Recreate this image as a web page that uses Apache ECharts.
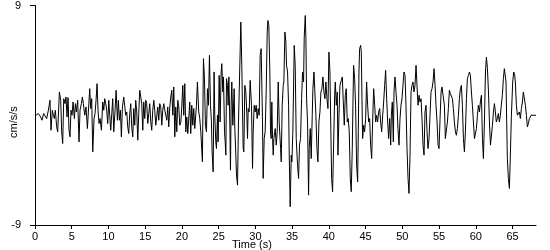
<!DOCTYPE html>
<html>
<head>
<meta charset="utf-8">
<script src="https://cdn.jsdelivr.net/npm/echarts@6/dist/echarts.min.js"></script>
<style>html,body{margin:0;padding:0;background:#fff;}#c{width:550px;height:250px;}</style>
</head>
<body>
<div id="c"></div>
<script>
// Time (s) of each read sample
const times = [
0.14,0.45,0.77,0.95,1.18,1.41,1.59,1.82,2.04,2.18,2.36,2.50,2.63,2.77,2.95,3.09,3.32,3.50,3.63,3.77,3.91,4.09,4.22,4.36,4.50,4.63,4.77,4.90,5.04,5.18,5.36,5.50,5.63,5.81,5.99,6.13,6.31,6.45,6.58,6.77,6.95,7.13,7.27,7.45,7.58,7.72,7.86,8.04,8.17,8.31,8.45,8.58,8.72,8.86,9.04,9.22,9.36,9.49,9.63,9.76,9.90,10.04,10.17,10.31,10.45,10.58,10.72,10.90,11.04,11.22,11.35,11.49,11.63,11.76,11.90,12.08,12.22,12.35,12.49,12.62,12.76,12.90,13.03,13.17,13.31,13.44,13.58,13.71,13.85,13.99,14.12,14.26,14.40,14.53,14.67,14.80,14.94,15.08,15.21,15.35,15.49,15.62,15.76,15.89,16.03,16.17,16.30,16.44,16.58,16.71,16.85,16.98,17.12,17.26,17.39,17.53,17.67,17.80,17.94,18.07,18.21,18.35,18.48,18.62,18.76,18.89,19.03,19.16,19.30,19.44,19.57,19.71,19.85,19.98,20.12,20.25,20.39,20.53,20.66,20.80,
20.93,21.07,21.20,21.34,21.48,21.61,21.75,21.98,22.11,22.29,22.43,22.57,22.79,22.93,23.07,23.20,23.34,23.48,23.61,23.75,23.89,24.02,24.11,24.25,24.38,24.47,24.61,24.70,24.84,24.93,25.07,25.20,25.34,25.43,25.57,25.66,25.80,25.89,25.98,26.07,26.20,26.29,26.39,26.52,26.61,26.70,26.79,26.93,27.02,27.11,27.20,27.29,27.43,27.57,27.70,
28.02,28.15,28.34,28.43,28.56,28.70,28.84,28.93,29.02,29.15,29.29,29.47,29.61,29.70,29.84,29.97,30.11,30.24,30.38,30.52,30.65,30.79,30.97,31.06,31.20,31.33,31.47,31.61,31.70,31.83,31.97,32.06,32.15,32.24,32.34,32.43,32.52,32.70,32.84,32.97,33.11,33.24,33.43,33.52,33.65,33.79,33.88,34.02,34.15,34.24,34.38,34.52,34.61,34.74,
34.88,34.97,35.10,35.29,35.42,35.56,35.74,35.88,36.01,36.15,36.29,36.42,36.56,36.65,36.79,36.88,36.97,37.10,37.24,37.33,37.47,37.60,37.74,37.83,37.97,38.10,38.24,38.38,38.51,38.65,38.79,38.92,39.06,39.19,39.33,39.47,39.60,39.74,39.88,40.01,40.15,40.24,40.38,40.51,40.65,40.79,40.88,41.01,41.15,41.24,41.38,41.51,41.65,
41.83,41.96,42.10,42.24,42.37,42.51,42.64,42.78,42.92,43.05,43.19,43.28,43.37,43.51,43.64,43.78,43.92,44.01,44.10,44.19,44.33,44.42,44.51,44.60,44.74,44.87,45.01,45.14,45.28,45.42,45.55,45.69,45.83,45.96,46.10,46.24,46.37,46.51,46.64,46.78,46.92,47.05,47.19,47.33,47.46,47.60,47.73,47.87,48.01,48.14,48.28,48.42,48.51,48.64,
48.78,48.87,49.00,49.14,49.28,49.41,49.55,49.69,49.82,49.96,50.09,50.23,50.37,50.50,50.64,50.78,50.91,51.05,51.19,51.32,51.46,51.59,51.73,51.87,52.00,52.14,52.28,52.41,52.55,52.68,52.82,52.96,53.09,53.23,53.37,53.50,53.64,53.77,53.91,54.05,54.18,54.32,54.46,54.59,54.73,54.87,55.00,55.14,55.28,55.41,55.55,
55.73,55.86,56.00,56.14,56.27,56.41,56.54,56.68,56.82,56.95,57.09,57.23,57.36,57.50,57.64,57.77,57.91,58.04,58.18,58.32,58.45,58.59,58.73,58.86,59.00,59.14,59.27,59.41,59.54,59.68,59.82,59.95,60.09,60.23,60.36,60.50,60.63,60.77,60.91,61.04,61.18,61.32,61.45,61.59,61.73,61.86,62.00,62.14,62.27,62.41,62.54,
62.67,62.80,62.94,63.08,63.21,63.35,63.48,63.62,63.76,63.89,64.03,64.12,64.21,64.30,64.44,64.58,64.71,64.85,65.03,65.17,65.30,65.39,65.53,65.67,65.80,65.94,66.07,66.21,66.35,66.48,66.62,66.76,66.89,67.03,67.16,67.30,67.53,68.21
];
// Acceleration (cm/s/s) at each sample
const accel = [
0,0.14,-0.14,-0.41,0.14,0.19,-0.27,0.41,1.23,-1.23,0.41,0,-0.27,0.41,-0.95,-1.36,1.91,1.23,-1.36,-2.32,1.36,0.95,1.50,-0.14,1.45,-1.23,-1.77,0.41,0,1.09,-0.27,0.95,0.27,1.23,-2.18,0.41,0.95,1.50,0.95,0,0.68,-1.09,-1.23,2.18,0.55,1.36,-3.0,-0.27,0.14,1.23,2.59,0.41,-0.68,-0.27,-1.23,1.09,0.41,1.36,0.95,0.41,-0.68,1.23,0,-1.23,0.14,1.36,-1.36,0.41,2.05,-0.41,1.23,-0.41,0.41,-1.77,0.68,1.50,1.50,0,0.27,-0.95,-1.50,0.14,0.95,-0.95,-1.77,0.55,-0.82,1.23,0.27,-2.05,0.14,2.05,1.50,0.95,-1.23,1.09,-0.27,1.23,0.95,-0.68,0.14,0.95,-0.55,-1.23,0.41,1.23,0.41,-0.82,-0.68,0.68,-0.41,0.95,0.68,-0.82,0.41,0.95,0.41,0,-0.41,0.68,-0.95,0.68,1.50,2.05,0,2.32,-1.77,0.68,-1.36,1.23,0.68,-0.82,-0.55,0.68,2.45,0,2.59,-1.36,-0.14,-1.50,
-1.50,1.09,-1.50,0.82,-0.82,0.55,-1.09,0.82,2.73,0.27,-0.27,-1.36,-3.82,4.64,3.0,-0.82,-1.36,2.18,0.82,4.91,0.82,-0.55,-3.0,-4.64,3.55,0,-2.18,-2.73,0,-2.18,3.27,-0.55,3.55,4.23,1.91,3.14,-1.36,-2.18,-3.27,3.0,2.45,0.82,3.14,-0.55,-4.5,0.82,2.73,-0.82,0.55,2.18,-1.09,-2.45,-4.91,-5.73,-0.55,
7.64,4.09,-2.73,-3.0,2.45,1.91,0,-1.91,0.55,0.27,2.86,0.82,-4.36,-1.36,0.82,0.27,0.82,-0.27,0.55,0,4.91,5.46,-0.55,-5.18,-1.91,-1.36,1.91,6.82,7.77,7.36,3.55,-1.36,-1.91,1.09,-1.91,-3.27,-1.91,-1.09,-2.45,-1.36,2.73,-0.55,-2.73,-3.82,0.82,2.45,2.73,6.82,6.0,4.09,3.55,0.82,-3.27,-7.5,
-3.27,-3.82,-1.36,5.73,4.09,-1.91,-4.09,-5.18,-2.45,-1.91,1.36,3.55,2.73,6.41,8.18,6.27,1.36,-0.55,-6.55,-2.73,-1.09,-3.55,0,2.18,3.55,1.91,0,-2.73,-3.82,-0.55,0.27,1.91,2.18,3.14,1.91,1.36,2.73,1.36,0.55,5.18,3.55,0,-5.18,-6.27,-2.45,1.64,2.73,0.82,1.91,-3.27,0,2.45,2.59,
3.14,1.23,-0.82,1.64,2.18,-0.55,-0.27,-1.36,-5.18,-6.27,-2.73,0.82,4.09,3.0,0.82,-4.09,-5.46,-1.36,3.55,5.46,5.73,5.18,1.36,-1.91,-0.82,-1.36,-0.27,2.73,0.82,-0.55,-0.27,-2.45,-3.55,-0.55,2.18,0.82,-0.55,0,-0.55,0.27,0.55,-0.55,-1.36,0,1.09,2.45,3.68,1.36,-0.55,-1.91,-0.27,-2.45,0,1.09,
-2.18,1.91,3.14,1.91,0.82,-1.09,-2.45,-0.27,0.82,1.36,2.45,3.55,3.27,0.82,-2.73,-5.18,-6.41,-3.27,1.91,2.45,2.73,1.91,2.45,4.09,2.45,0.82,1.64,1.09,1.36,-0.27,-2.45,-3.27,0.27,0.82,-1.36,-2.73,-1.91,0,1.91,2.18,2.73,3.82,2.45,0.82,-0.55,-2.45,-2.73,-0.27,1.91,2.32,1.64,
0.82,-1.91,-1.91,-0.55,0.55,2.05,1.77,1.64,1.36,0.55,-0.55,-1.36,-1.64,-1.09,0,1.36,2.18,2.45,0.82,-1.91,-3.0,-1.36,1.36,3.0,3.27,3.55,3.27,1.91,0.82,-0.55,-1.91,-2.05,-1.09,0,0.82,0.27,1.09,1.64,-1.91,-3.55,-0.55,3.55,4.77,3.82,1.91,-0.55,-2.45,-2.45,-0.82,0.27,0.95,
0.27,-0.55,-0.27,0.14,-0.55,0,0.82,1.64,3.0,3.82,3.96,2.73,-0.55,-3.55,-5.18,-6.0,-3.27,0,2.73,3.55,3.27,2.73,0.82,0,0,0.27,-0.27,0.55,1.09,1.91,1.91,0.82,0,-0.95,-0.68,-0.27,0,0
];
const xTicks = [0,5,10,15,20,25,30,35,40,45,50,55,60,65];
const yTicks = [-9, 9];

const data = times.map((t, i) => [t, accel[i]]);
const chart = echarts.init(document.getElementById('c'), null, {renderer: 'canvas'});
const font = 'Liberation Sans';
chart.setOption({
  animation: false,
  backgroundColor: '#fff',
  grid: {left: 35, right: 14, top: 5, bottom: 25, containLabel: false},
  xAxis: {
    type: 'value', min: xTicks[0], max: 68.2, interval: 5,
    axisLine: {show: true, onZero: false, lineStyle: {color: '#000', width: 1}},
    axisTick: {show: true, length: 4, lineStyle: {color: '#000'}},
    axisLabel: {color: '#000', fontFamily: font, fontSize: 11, margin: 6, showMaxLabel: false},
    splitLine: {show: false}
  },
  yAxis: {
    type: 'value', min: yTicks[0], max: yTicks[1], interval: 18,
    axisLine: {show: true, onZero: false, lineStyle: {color: '#000', width: 1}},
    axisTick: {show: true, length: 5, lineStyle: {color: '#000'}},
    axisLabel: {color: '#000', fontFamily: font, fontSize: 11, margin: 14},
    splitLine: {show: false}
  },
  graphic: [
    {type: 'text', left: 232, top: 239, style: {text: 'Time (s)', fill: '#000', font: '11px ' + font}},
    {type: 'text', x: 8, y: 138, rotation: Math.PI / 2, style: {text: 'cm/s/s', fill: '#000', font: '11px ' + font}}
  ],
  series: [{
    type: 'line', data: data, symbol: 'none', smooth: false,
    lineStyle: {color: '#000', width: 1}
  }]
});
</script>
</body>
</html>
